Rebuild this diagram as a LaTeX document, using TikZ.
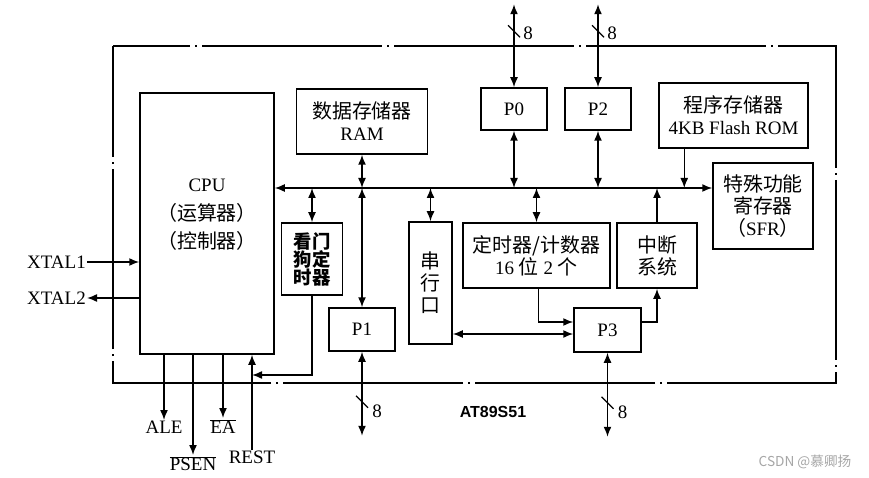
\documentclass[tikz,border=0pt]{standalone}
\usepackage{fontspec}
\setmainfont{Liberation Serif}
\newfontfamily\zh[Scale=1.05]{Noto Sans CJK SC}
\newfontfamily\arial{Liberation Sans}
\usetikzlibrary{arrows.meta, calc}

\begin{document}
\begin{tikzpicture}[x=1pt, y=-1pt,
            font=\fontsize{19}{22}\selectfont,
            box/.style={rectangle, draw, line width=1.5pt, inner sep=0pt, align=center},
            lab/.style={inner sep=1pt},
            arr/.style={-{Latex[length=10pt,width=8pt]}, line width=1.5pt},
            dbl/.style={{Latex[length=10pt,width=8pt]}-{Latex[length=10pt,width=8pt]}, line width=1.5pt},
            slash/.style={line width=1.3pt},
            frame/.style={line width=1.5pt, dash pattern=on 180pt off 5pt on 2pt off 5pt, dash phase=103pt}
        ]
            \useasboundingbox (0,0) rectangle (869,478);

            % Chip outline
            \draw[frame] (113,46) -- (836,46) -- (836,383) -- (113,383) -- cycle;
            \node[font=\arial\bfseries\fontsize{16}{18}\selectfont] (chip) at (493,412) {AT89S51};

            % CPU
            \node[box, minimum width=134pt, minimum height=261pt] (cpu) at (207,223.5) {};
            \node[align=center, font=\fontsize{19}{28.5}\selectfont] (cputxt) at (207,215)
                {CPU\\{\zh （运算器）}\\{\zh （控制器）}};

            % Blocks
            \node[box, minimum width=131pt, minimum height=65pt] (ram) at (362,121.5) {{\zh 数据存储器}\\RAM};
            \node[box, minimum width=66pt, minimum height=42pt] (p0) at (514,109) {P0};
            \node[box, minimum width=66pt, minimum height=42pt] (p2) at (598,109) {P2};
            \node[box, minimum width=149pt, minimum height=65pt] (rom) at (733.5,115.5) {{\zh 程序存储器}\\4KB Flash ROM};
            \node[box, minimum width=100pt, minimum height=86pt] (sfr) at (763,206) {{\zh 特殊功能}\\{\zh 寄存器}\\{\zh （}SFR{\zh ）}};
            \node[box, minimum width=61pt, minimum height=72pt, font=\zh\bfseries\fontsize{17.5}{18}\selectfont] (wdt) at (312,259) {看门\\狗定\\时器};
            \node[box, minimum width=66pt, minimum height=43pt] (p1) at (362,329.5) {P1};
            \node[box, minimum width=43pt, minimum height=122pt] (uart) at (430.5,283) {{\zh 串}\\{\zh 行}\\{\zh 口}};
            \node[box, minimum width=147pt, minimum height=65pt] (tmr) at (536.5,255.5) {{\zh 定时器/计数器}\\16 {\zh 位} 2 {\zh 个}};
            \node[box, minimum width=80pt, minimum height=65pt] (irq) at (657,255.5) {{\zh 中断}\\{\zh 系统}};
            \node[box, minimum width=67pt, minimum height=44pt] (p3) at (607.5,330) {P3};

            % Internal bus
            \coordinate (bus) at (0,188);
            \draw[dbl] (cpu.east |- bus) -- (sfr.west |- bus);
            \draw[dbl] (ram.south) -- (ram.south |- bus);
            \draw[dbl] (p1.north |- bus) -- (p1.north);
            \draw[dbl] (wdt.north |- bus) -- (wdt.north);
            \draw[dbl] (uart.north |- bus) -- (uart.north);
            \draw[dbl] (tmr.north |- bus) -- (tmr.north);
            \draw[dbl] (p0.south) -- (p0.south |- bus);
            \draw[dbl] (p2.south) -- (p2.south |- bus);
            \draw[arr] (irq.north) -- (irq.north |- bus);
            \coordinate (romout) at ($(rom.south west)+(26,0)$);
            \draw[arr] (romout) -- (romout |- bus);

            % Around P3
            \draw[arr] ($(tmr.south)+(2,0)$) |- ($(p3.west)+(0,-8)$);
            \coordinate (p3in) at ($(p3.west)+(0,4)$);
            \draw[dbl] (uart.east |- p3in) -- (p3in);
            \draw[arr] ($(p3.east)+(0,-8)$) -| (irq.south);

            % Ports to the outside
            \foreach \p in {p0,p2} {
                \draw[dbl] (\p.north) -- ++(0,-83) coordinate (\p end);
                \draw[slash] ($(\p.north)+(-6,-62)$) -- ++(12,12);
                \node[lab] at ($(\p.north)+(14,-54)$) {8};
            }
            \foreach \p in {p1,p3} {
                \draw[dbl] (\p.south) -- ++(0,84) coordinate (\p end);
                \draw[slash] ($(\p.south)+(-6,44)$) -- ++(12,12);
                \node[lab] at ($(\p.south)+(15,60)$) {8};
            }

            % Clock pins
            \node[lab, anchor=east] (x1) at (87,262) {XTAL1};
            \node[lab, anchor=east] (x2) at (87,298) {XTAL2};
            \draw[arr] (x1.east) -- (x1.east -| cpu.west);
            \draw[arr] (x2.east -| cpu.west) -- (x2.east);

            % Control pins
            \node[lab, anchor=north] (ale) at (164,420) {ALE};
            \node[lab, anchor=north] (psen) at (193,455) {$\overline{\mbox{PSEN}}$};
            \node[lab, anchor=north] (ea) at (223,418) {$\overline{\mbox{EA}}$};
            \node[lab, anchor=north] (rest) at (252,450) {REST};
            \draw[arr] (ale.north |- cpu.south) -- (ale.north);
            \draw[arr] (psen.north |- cpu.south) -- (psen.north);
            \draw[arr] (ea.north |- cpu.south) -- (ea.north);
            \draw[arr] (rest.north) -- (rest.north |- cpu.south);

            % Watchdog reset
            \coordinate (rstj) at (252,375);
            \draw[arr] (wdt.south) |- (rstj);

            \node[font=\zh\fontsize{13}{15}\selectfont, text=gray!70] (wm) at (805,462) {CSDN @慕卿扬};
        \end{tikzpicture}
\end{document}
